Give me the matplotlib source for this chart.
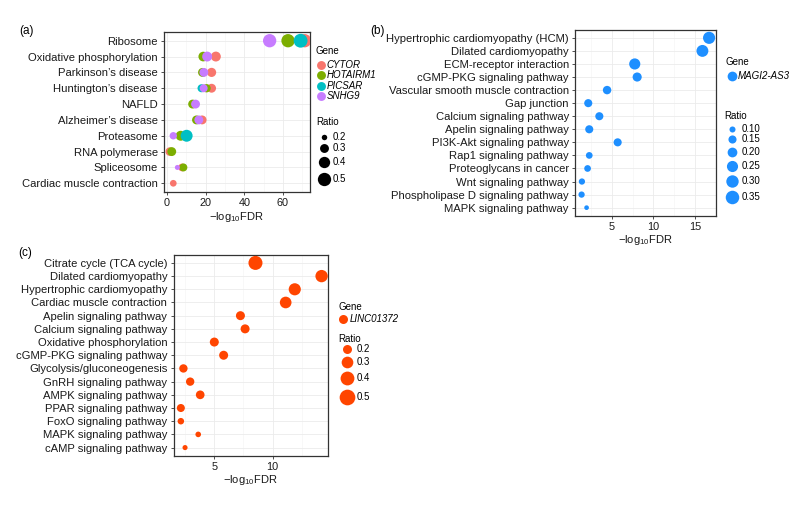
import numpy as np
import matplotlib
matplotlib.use('Agg')
import matplotlib.pyplot as plt

plt.rcParams['font.family'] = ['Liberation Sans', 'DejaVu Sans']
plt.rcParams['mathtext.fontset'] = 'custom'
plt.rcParams['mathtext.rm'] = 'Liberation Sans'
plt.rcParams['mathtext.it'] = 'Liberation Sans:italic'

# ---- panel (a) data ----
a_terms = ['Ribosome', 'Oxidative phosphorylation', 'Parkinson’s disease',
           'Huntington’s disease', 'NAFLD', 'Alzheimer’s disease',
           'Proteasome', 'RNA polymerase', 'Spliceosome',
           'Cardiac muscle contraction']
a_genes = ['CYTOR', 'HOTAIRM1', 'PICSAR', 'SNHG9']
a_colors = ['#F8766D', '#7CAE00', '#00BFC4', '#C77CFF']

cytor_terms = ['Ribosome', 'Oxidative phosphorylation', 'Parkinson’s disease',
               'Huntington’s disease', 'Alzheimer’s disease', 'RNA polymerase',
               'Spliceosome', 'Cardiac muscle contraction']
cytor_fdr = [71.2, 25.3, 23.1, 23.1, 18.2, 1.5, 7.8, 3.3]
cytor_ratio = [0.50, 0.34, 0.31, 0.30, 0.30, 0.29, 0.26, 0.23]

hotairm1_terms = ['Ribosome', 'Oxidative phosphorylation', 'Parkinson’s disease',
                  'Huntington’s disease', 'NAFLD', 'Alzheimer’s disease',
                  'Proteasome', 'RNA polymerase', 'Spliceosome']
hotairm1_fdr = [62.6, 18.8, 18.4, 20.5, 13.3, 15.3, 7.1, 2.5, 8.5]
hotairm1_ratio = [0.50, 0.33, 0.30, 0.28, 0.30, 0.30, 0.34, 0.30, 0.27]

picsar_terms = ['Ribosome', 'Huntington’s disease', 'Proteasome']
picsar_fdr = [69.1, 17.9, 10.2]
picsar_ratio = [0.53, 0.27, 0.43]

snhg9_terms = ['Ribosome', 'Oxidative phosphorylation', 'Parkinson’s disease',
               'Huntington’s disease', 'NAFLD', 'Alzheimer’s disease',
               'Proteasome', 'Spliceosome']
snhg9_fdr = [53.1, 20.8, 19.1, 19.0, 14.8, 16.5, 3.3, 5.4]
snhg9_ratio = [0.50, 0.34, 0.30, 0.27, 0.30, 0.30, 0.25, 0.19]

a_ratio_legend = [0.2, 0.3, 0.4, 0.5]

# ---- panel (b) data ----
b_terms = ['Hypertrophic cardiomyopathy (HCM)', 'Dilated cardiomyopathy',
           'ECM-receptor interaction', 'cGMP-PKG signaling pathway',
           'Vascular smooth muscle contraction', 'Gap junction',
           'Calcium signaling pathway', 'Apelin signaling pathway',
           'PI3K-Akt signaling pathway', 'Rap1 signaling pathway',
           'Proteoglycans in cancer', 'Wnt signaling pathway',
           'Phospholipase D signaling pathway', 'MAPK signaling pathway']
b_fdr = [16.69, 15.89, 7.77, 8.06, 4.45, 2.19, 3.52, 2.31, 5.72, 2.31,
         2.11, 1.43, 1.39, 1.99]
b_ratio = [0.29, 0.28, 0.25, 0.18, 0.16, 0.15, 0.15, 0.15, 0.15, 0.115,
           0.115, 0.105, 0.105, 0.075]
b_gene = 'MAGI2-AS3'
b_ratio_legend = [0.10, 0.15, 0.20, 0.25, 0.30, 0.35]

# ---- panel (c) data ----
c_terms = ['Citrate cycle (TCA cycle)', 'Dilated cardiomyopathy',
           'Hypertrophic cardiomyopathy', 'Cardiac muscle contraction',
           'Apelin signaling pathway', 'Calcium signaling pathway',
           'Oxidative phosphorylation', 'cGMP-PKG signaling pathway',
           'Glycolysis/gluconeogenesis', 'GnRH signaling pathway',
           'AMPK signaling pathway', 'PPAR signaling pathway',
           'FoxO signaling pathway', 'MAPK signaling pathway',
           'cAMP signaling pathway']
c_fdr = [8.53, 14.2, 11.9, 11.12, 7.24, 7.64, 5.0, 5.8, 2.35, 2.93, 3.79,
         2.13, 2.13, 3.62, 2.49]
c_ratio = [0.41, 0.33, 0.32, 0.30, 0.20, 0.20, 0.20, 0.20, 0.18, 0.18,
           0.19, 0.17, 0.13, 0.11, 0.10]
c_gene = 'LINC01372'
c_ratio_legend = [0.2, 0.3, 0.4, 0.5]

W, H = 799, 519
fig = plt.figure(figsize=(W / 100, H / 100), dpi=100)


def size_fn(a, b):
    # area (px^2) linear in ratio, converted to points^2
    return lambda r: (np.maximum(a + b * np.asarray(r), 4)) * 0.72 ** 2


size_a = size_fn(-68, 490)
size_b = size_fn(-22, 584)
size_c = size_fn(-29, 550)


def make_ax(left, top, right, bottom):
    ax = fig.add_axes([left / W, 1 - bottom / H, (right - left) / W,
                       (bottom - top) / H])
    for sp in ax.spines.values():
        sp.set_color('#333333')
        sp.set_linewidth(0.9)
    ax.set_axisbelow(True)
    ax.grid(True, which='major', color='#EBEBEB', lw=0.6)
    ax.grid(True, which='minor', axis='x', color='#F4F4F4', lw=0.4)
    ax.tick_params(which='major', length=2.5, width=0.6, color='#333333',
                   labelcolor='#1a1a1a', pad=2)
    ax.tick_params(axis='y', labelsize=8.1)
    ax.tick_params(axis='x', labelsize=7.8)
    ax.tick_params(which='minor', length=0)
    ax.set_xlabel(r'$\mathregular{-log_{10}FDR}$', fontsize=8, labelpad=1,
                  color='#1a1a1a')
    return ax


def set_terms(ax, terms, pad):
    n = len(terms)
    ax.set_yticks(range(n))
    ax.set_yticklabels(terms)
    ax.set_ylim(n - 1 + pad, -pad)


# panel (a)
ax_a = make_ax(164, 32, 309.5, 192)
ypos = {t: i for i, t in enumerate(a_terms)}
series = [(cytor_terms, cytor_fdr, cytor_ratio),
          (hotairm1_terms, hotairm1_fdr, hotairm1_ratio),
          (picsar_terms, picsar_fdr, picsar_ratio),
          (snhg9_terms, snhg9_fdr, snhg9_ratio)]
for (terms, fdr, ratio), col in zip(series, a_colors):
    ax_a.scatter(fdr, [ypos[t] for t in terms], s=size_a(ratio), color=col,
                 linewidths=0, zorder=3)
set_terms(ax_a, a_terms, 0.55)
ax_a.set_xlim(-1.5, 73.7)
ax_a.set_xticks([0, 20, 40, 60])
ax_a.set_xticks([10, 30, 50, 70], minor=True)

# panel (b)
ax_b = make_ax(575, 30, 715.5, 215.5)
ax_b.scatter(b_fdr, range(len(b_terms)), s=size_b(b_ratio), color='#1E8FFF',
             linewidths=0, zorder=3)
set_terms(ax_b, b_terms, 0.6)
ax_b.set_xlim(0.6, 17.46)
ax_b.set_xticks([5, 10, 15])
ax_b.set_xticks([2.5, 7.5, 12.5], minor=True)

# panel (c)
ax_c = make_ax(173.5, 255, 328, 455.5)
ax_c.scatter(c_fdr, range(len(c_terms)), s=size_c(c_ratio), color='#FF4500',
             linewidths=0, zorder=3)
set_terms(ax_c, c_terms, 0.6)
ax_c.set_xlim(1.5, 14.75)
ax_c.set_xticks([5, 10])
ax_c.set_xticks([2.5, 7.5, 12.5], minor=True)

# legends and panel tags drawn on an overlay in pixel coordinates
ov = fig.add_axes([0, 0, 1, 1])
ov.set_xlim(0, W)
ov.set_ylim(H, 0)
ov.axis('off')

fs = 7
ov.text(19, 31, '(a)', fontsize=8.5, va='center')
ov.text(370, 31, '(b)', fontsize=8.5, va='center')
ov.text(18, 253, '(c)', fontsize=8.5, va='center')

# legend (a)
ov.text(316, 51, 'Gene', fontsize=fs, va='center')
for g, col, y in zip(a_genes, a_colors, [65, 75.3, 85.7, 96]):
    ov.scatter(321, y, s=size_a(0.3), color=col, linewidths=0)
    ov.text(326.5, y, g, fontsize=fs, style='italic', va='center')
ov.text(316, 122, 'Ratio', fontsize=fs, va='center')
for r, y in zip(a_ratio_legend, [136.7, 147.7, 162.3, 179]):
    ov.scatter(324, y, s=size_a(r), color='black', linewidths=0)
    ov.text(333, y, f'{r:.1f}', fontsize=fs, va='center')

# legend (b)
ov.text(725.5, 62.3, 'Gene', fontsize=fs, va='center')
ov.scatter(731.7, 76.3, s=size_b(0.2), color='#1E8FFF', linewidths=0)
ov.text(738, 76.3, b_gene, fontsize=fs, style='italic', va='center')
ov.text(724.5, 116.3, 'Ratio', fontsize=fs, va='center')
for r, y in zip(b_ratio_legend, [129.3, 139.3, 151.7, 165.7, 181, 197.3]):
    ov.scatter(732.3, y, s=size_b(r), color='#1E8FFF', linewidths=0)
    ov.text(741.5, y, f'{r:.2f}', fontsize=fs, va='center')

# legend (c)
ov.text(338.3, 306.7, 'Gene', fontsize=fs, va='center')
ov.scatter(343.3, 319.3, s=size_c(0.2), color='#FF4500', linewidths=0)
ov.text(349.5, 319.3, c_gene, fontsize=fs, style='italic', va='center')
ov.text(338, 338.7, 'Ratio', fontsize=fs, va='center')
for r, y in zip(c_ratio_legend, [349.3, 362.3, 378.3, 396.7]):
    ov.scatter(346.7, y, s=size_c(r), color='#FF4500', linewidths=0)
    ov.text(356.5, y, f'{r:.1f}', fontsize=fs, va='center')

fig.savefig('out.png', dpi=100)
